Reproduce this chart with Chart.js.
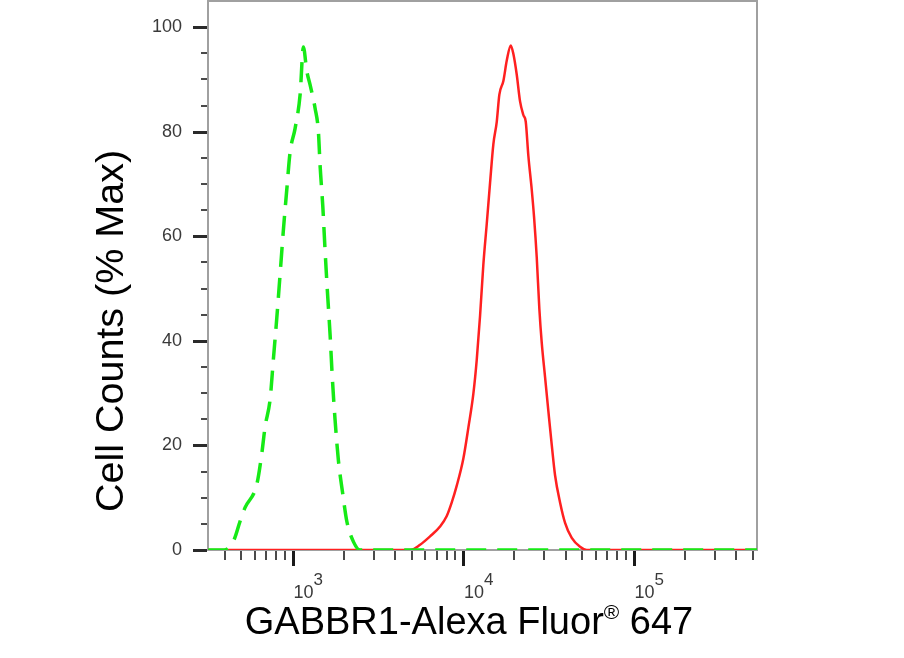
<!DOCTYPE html>
<html>
<head>
<meta charset="utf-8">
<script src="https://cdn.jsdelivr.net/npm/chart.js@4.4.1/dist/chart.umd.min.js"></script>
<style>
  html, body { margin: 0; padding: 0; background: #fff; }
  #wrap { width: 904px; height: 658px; }
</style>
</head>
<body>
<div id="wrap"><canvas id="histo"></canvas></div>
<script>
// isotype control (green dashed)
const isotypeX = [320, 397, 454, 492, 526, 617, 660, 690, 738, 772, 808, 845, 883, 925, 967,
  1034, 1107, 1157, 1211, 1266, 1355, 1417, 1450, 1504, 1551, 1600, 1660, 1712, 1775, 1856,
  1970, 2080, 2273, 2488, 530000];
const isotypeY = [0, 0, 2, 5.5, 8.1, 12.6, 18.5, 23.6, 28.8, 36.6, 44.4, 52.8, 61.2, 69, 76.1,
  80.6, 87.1, 96.2, 91.6, 89, 84.5, 80, 73.5, 65.7, 57.3, 49.5, 41.1, 32.7, 24.9, 17.2,
  10.7, 5.5, 1.6, 0, 0];

// GABBR1 stained (red)
const gabbr1X = [320, 4900, 5596, 6404, 7331, 8024, 8585, 9183, 10041, 10743, 11494, 12033, 12582,
  13154, 13772, 14400, 15055, 15763, 16327, 17236, 18045, 19047, 19724, 20654, 21594, 22578,
  23322, 24155, 25288, 26087, 27060, 28027, 28947, 30262, 31644, 33131, 34643, 37069, 39664,
  43403, 48560, 53150, 530000];
const gabbr1Y = [0, 0, 1.0, 2.6, 4.5, 6.5, 9.1, 12.3, 17.5, 23.4, 29.9, 36.4, 44.8,
  54.6, 62.4, 70.2, 77.6, 81.9, 87.1, 89.7, 93.6, 96.5, 94.9, 90.9, 85.8, 83.2,
  81.9, 75.4, 68.9, 63.7, 55.9, 46.1, 39.6, 33.1, 26.6, 20.1, 14.3, 9.1, 5.2,
  2.3, 0.6, 0, 0];

// axis ticks
const yMajorTicks = [0, 20, 40, 60, 80, 100];
const yMinorTicks = [5, 10, 15, 25, 30, 35, 45, 50, 55, 65, 70, 75, 85, 90, 95];
const xMajorTicks = [1e3, 1e4, 1e5];
const xMajorExponents = ['3', '4', '5'];
const xMinorTicks = [400, 500, 600, 700, 800, 900,
  2000, 3000, 4000, 5000, 6000, 7000, 8000, 9000,
  20000, 30000, 40000, 50000, 60000, 70000, 80000, 90000,
  200000, 300000, 400000, 500000];

const FONT = '"Liberation Sans", Arial, sans-serif';
const pts = (xs, ys) => xs.map((x, i) => ({ x, y: ys[i] }));

const frame = {
  id: 'frame',
  beforeDatasetsDraw(chart) {
    const { ctx, chartArea: a, scales: { x, y } } = chart;
    ctx.save();
    ctx.strokeStyle = '#a0a0a0';
    ctx.lineWidth = 2;
    ctx.strokeRect(a.left, a.top, a.right - a.left, a.bottom - a.top);

    // y ticks
    const ytick = (v, len, w, col) => {
      const py = Math.round(y.getPixelForValue(v)) + (w % 2 ? 0.5 : 0);
      ctx.strokeStyle = col; ctx.lineWidth = w;
      ctx.beginPath(); ctx.moveTo(a.left - len, py); ctx.lineTo(a.left - 1, py); ctx.stroke();
    };
    yMinorTicks.forEach(v => ytick(v, 7, 2, '#4a4a4a'));
    yMajorTicks.forEach(v => ytick(v, 15, 3, '#2a2a2a'));

    // x ticks
    const xtick = (v, len, w, col) => {
      const px = Math.round(x.getPixelForValue(v)) + (w % 2 ? 0.5 : 0);
      ctx.strokeStyle = col; ctx.lineWidth = w;
      ctx.beginPath(); ctx.moveTo(px, a.bottom + 1); ctx.lineTo(px, a.bottom + len); ctx.stroke();
    };
    xMinorTicks.forEach(v => xtick(v, 10, 2, '#4a4a4a'));
    xMajorTicks.forEach(v => xtick(v, 16, 3, '#1a1a1a'));

    // x tick labels 10^n
    ctx.fillStyle = '#3a3a3a';
    ctx.textAlign = 'left';
    ctx.textBaseline = 'alphabetic';
    xMajorTicks.forEach((v, i) => {
      const px = x.getPixelForValue(v) + 1;
      ctx.font = '18px ' + FONT;
      ctx.fillText('10', px, 598);
      const w = ctx.measureText('10').width;
      ctx.font = '17px ' + FONT;
      ctx.fillText(xMajorExponents[i], px + w, 585);
    });

    // axis titles
    ctx.fillStyle = '#000';
    ctx.font = '39.5px ' + FONT;
    ctx.save();
    ctx.translate(123, 331);
    ctx.rotate(-Math.PI / 2);
    ctx.textAlign = 'center';
    ctx.fillText('Cell Counts (% Max)', 0, 0);
    ctx.restore();

    const main1 = 'GABBR1-Alexa Fluor', reg = '\u00AE', main2 = ' 647';
    ctx.font = '38px ' + FONT;
    const w1 = ctx.measureText(main1).width, w3 = ctx.measureText(main2).width;
    ctx.font = '21px ' + FONT;
    const w2 = ctx.measureText(reg).width;
    let tx = 469 - (w1 + w2 + w3) / 2;
    ctx.font = '38px ' + FONT;
    ctx.fillText(main1, tx, 634);
    ctx.font = '21px ' + FONT;
    ctx.fillText(reg, tx + w1, 619);
    ctx.font = '38px ' + FONT;
    ctx.fillText(main2, tx + w1 + w2, 634);
    ctx.restore();
  }
};

new Chart(document.getElementById('histo'), {
  type: 'line',
  data: {
    datasets: [{
      label: 'Isotype',
      data: pts(isotypeX, isotypeY),
      borderColor: '#16ea16',
      borderWidth: 3.5,
      borderDash: [20, 11],
      pointRadius: 0,
      cubicInterpolationMode: 'monotone',
      fill: false
    }, {
      label: 'GABBR1',
      data: pts(gabbr1X, gabbr1Y),
      borderColor: '#ff2020',
      borderWidth: 2.5,
      pointRadius: 0,
      cubicInterpolationMode: 'monotone',
      fill: false
    }]
  },
  options: {
    responsive: true,
    maintainAspectRatio: false,
    animation: false,
    layout: { padding: { left: 0, right: 147, top: 1, bottom: 0 } },
    plugins: { legend: { display: false }, tooltip: { enabled: false } },
    scales: {
      x: {
        type: 'logarithmic',
        min: 319,
        max: 530000,
        ticks: { display: false },
        grid: { display: false, drawTicks: false },
        border: { display: false },
        afterFit: s => { s.height = 108; s.paddingLeft = 0; s.paddingRight = 0; }
      },
      y: {
        min: 0,
        max: 105,
        ticks: {
          stepSize: 20,
          includeBounds: false,
          padding: 26,
          color: '#3a3a3a',
          font: { size: 18, family: FONT }
        },
        grid: { display: false, drawTicks: false },
        border: { display: false },
        afterFit: s => { s.width = 208; s.paddingTop = 0; s.paddingBottom = 0; }
      }
    }
  },
  plugins: [frame]
});
</script>
</body>
</html>
